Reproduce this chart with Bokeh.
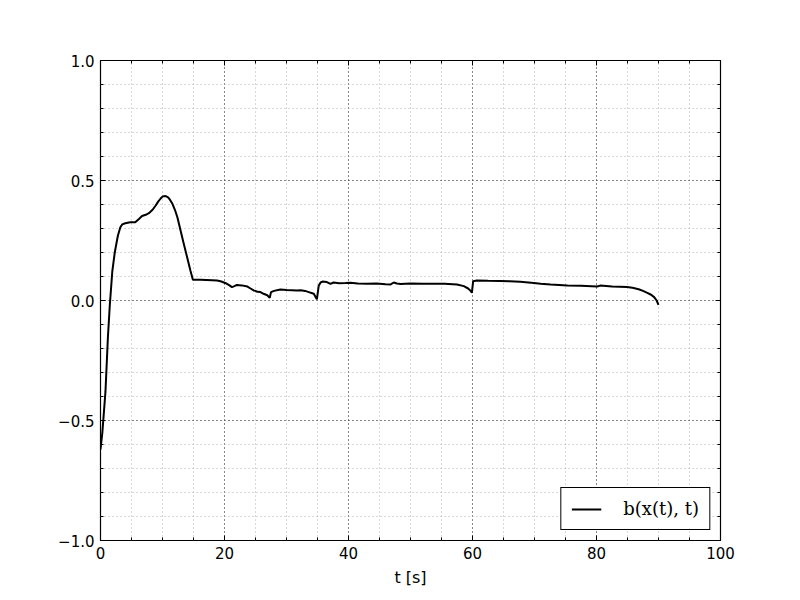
from bokeh.plotting import figure
from bokeh.models import (LinearAxis, SingleIntervalTicker, CustomJSTickFormatter,
                          Range1d, Legend, LegendItem, ColumnDataSource, Grid)
from bokeh.embed import file_html
from bokeh.resources import INLINE

t_vals = [0, 0.3, 0.8, 1.2, 1.5, 1.9, 2.3, 2.8, 3.2, 3.5, 4.0, 4.8, 5.6, 6.2, 6.7, 7.3, 7.8, 8.4,
          8.9, 9.3, 9.7, 10.0, 10.3, 10.6, 10.9, 11.2, 11.6, 12.0, 12.4, 13.4, 14.5, 14.9, 15.5,
          16.1, 18.0, 18.8, 19.5, 20.2, 20.8, 21.2, 21.6, 22.0, 22.8, 23.7, 24.2, 24.7, 25.0,
          25.3, 25.8, 26.3, 26.9, 27.3, 27.5, 28.0, 29.0, 30.0, 31.7, 32.3, 33.0, 33.6, 34.4,
          34.9, 35.2, 35.5, 35.8, 36.5, 37.1, 37.6, 38.5, 39.5, 40.3, 41.5, 43.0, 44.5, 46.0,
          46.8, 47.3, 47.8, 48.4, 50.0, 52.0, 53.8, 55.5, 57.5, 58.6, 59.3, 59.7, 59.9, 60.1,
          60.7, 62.5, 64.5, 66.0, 67.7, 69.9, 71.0, 72.6, 74.0, 75.3, 77.5, 80.1, 80.6, 82.5,
          84.9, 85.8, 86.8, 87.5, 88.2, 88.8, 89.3, 89.7, 90.0]
b_vals = [-0.62, -0.55, -0.38, -0.15, -0.02, 0.12, 0.2, 0.27, 0.305, 0.317, 0.322, 0.326, 0.326,
          0.34, 0.352, 0.357, 0.364, 0.378, 0.396, 0.412, 0.425, 0.433, 0.435, 0.434, 0.43, 0.42,
          0.403, 0.378, 0.347, 0.24, 0.125, 0.086, 0.086, 0.086, 0.084, 0.083, 0.079, 0.072,
          0.063, 0.056, 0.06, 0.065, 0.063, 0.058, 0.05, 0.042, 0.04, 0.036, 0.035, 0.028,
          0.022, 0.011, 0.035, 0.04, 0.046, 0.044, 0.042, 0.043, 0.04, 0.035, 0.028, 0.005,
          0.062, 0.075, 0.079, 0.077, 0.069, 0.075, 0.072, 0.073, 0.074, 0.071, 0.07, 0.071,
          0.068, 0.067, 0.075, 0.071, 0.069, 0.071, 0.07, 0.07, 0.07, 0.067, 0.06, 0.05, 0.04,
          0.032, 0.08, 0.083, 0.082, 0.081, 0.08, 0.078, 0.073, 0.07, 0.067, 0.065, 0.062,
          0.061, 0.058, 0.062, 0.058, 0.056, 0.053, 0.047, 0.04, 0.032, 0.024, 0.014, 0.0,
          -0.018]

x_ticks = [0, 20, 40, 60, 80, 100]
y_ticks = [-1.0, -0.5, 0.0, 0.5, 1.0]
legend_label = "b(x(t), t)"
x_label = "t [s]"

FONT = "DejaVu Sans"

p = figure(frame_width=620, frame_height=480, output_backend="svg", toolbar_location=None,
           x_range=Range1d(0, 100), y_range=Range1d(-1, 1),
           min_border_left=100, min_border_right=72, min_border_top=60, min_border_bottom=52,
           x_axis_type=None, y_axis_type=None)
p.outline_line_color = "black"
p.outline_line_width = 1.2
p.background_fill_color = "white"
p.border_fill_color = "white"

xt = SingleIntervalTicker(interval=20, num_minor_ticks=4)
yt = SingleIntervalTicker(interval=0.5, num_minor_ticks=5)
xfmt = CustomJSTickFormatter(code="return tick.toFixed(0);")
yfmt = CustomJSTickFormatter(code="return tick.toFixed(1).replace('-', '\u2212');")
blank = CustomJSTickFormatter(code="return '';")


def style_axis(ax, labels=True):
    ax.major_tick_in = 5
    ax.major_tick_out = 0
    ax.minor_tick_in = 3
    ax.minor_tick_out = 0
    ax.axis_line_color = None
    ax.major_tick_line_color = "black"
    ax.minor_tick_line_color = "black"
    ax.major_label_text_font = FONT
    ax.major_label_text_font_size = "15px"
    ax.major_label_text_color = "black"
    ax.major_label_standoff = 6 if labels else 0


xb = LinearAxis(ticker=xt, formatter=xfmt, axis_label=x_label)
style_axis(xb)
xb.axis_label_text_font = FONT
xb.axis_label_text_font_size = "16px"
xb.axis_label_text_font_style = "normal"
xb.axis_label_text_color = "black"
xb.axis_label_standoff = 6
p.add_layout(xb, "below")

yl = LinearAxis(ticker=yt, formatter=yfmt)
style_axis(yl)
p.add_layout(yl, "left")

xa = LinearAxis(ticker=xt, formatter=blank)
style_axis(xa, labels=False)
p.add_layout(xa, "above")

yr = LinearAxis(ticker=yt, formatter=blank)
style_axis(yr, labels=False)
p.add_layout(yr, "right")

gx = Grid(dimension=0, ticker=xt)
gy = Grid(dimension=1, ticker=yt)
for g in (gx, gy):
    g.grid_line_color = "black"
    g.grid_line_dash = "1 3"
    g.grid_line_width = 1
    g.grid_line_alpha = 0.75
    g.minor_grid_line_color = "#b0b0b0"
    g.minor_grid_line_dash = "1 3"
    g.minor_grid_line_width = 1
p.add_layout(gx)
p.add_layout(gy)

src = ColumnDataSource(dict(t=t_vals, b=b_vals))
r = p.line("t", "b", source=src, line_color="black", line_width=2)

leg = Legend(items=[LegendItem(label=legend_label, renderers=[r])], location="bottom_right")
leg.border_line_color = "black"
leg.border_line_width = 1
leg.border_line_alpha = 1
leg.background_fill_alpha = 1
leg.label_text_font = "DejaVu Serif"
leg.label_text_font_size = "18px"
leg.label_text_color = "black"
leg.glyph_width = 30
leg.label_standoff = 22
leg.padding = 10
leg.margin = 10
p.add_layout(leg)

open("out.html", "w").write(file_html(p, INLINE))
